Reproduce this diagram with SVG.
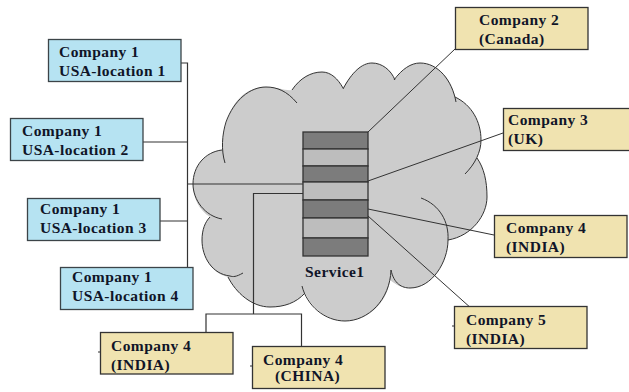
<svg xmlns="http://www.w3.org/2000/svg" width="629" height="392" viewBox="0 0 629 392">
<style>
.b{fill:#b6e3f2;stroke:#3c4448;stroke-width:1.3}
.y{fill:#f0e3b0;stroke:#333;stroke-width:1.3}
.t{font-family:"Liberation Serif","Times New Roman",serif;font-weight:700;font-size:15.5px;fill:#101528;letter-spacing:.45px}
.c{fill:none;stroke:#333;stroke-width:1}
.l{fill:none;stroke:#333;stroke-width:1.2}
.d{fill:#7c7c7c;stroke:#333;stroke-width:1.3}
.g{fill:#bdbdbd;stroke:#333;stroke-width:1.3}
</style>
<rect width="629" height="392" fill="#fff"/>
<g id="cloud">
<path fill="#cccccc" d="M222 150C224 110 240 87 266 87C277 87 286 91 292 90C300 78 311 72 322 72C331 72 338 79 343 88C352 72 362 63 372 63C382 63 391 70 395 80C402 69 411 63 420 63C438 63 452 80 455 97C472 105 481 122 481 140C481 148 479 153 477 158C484 168 487 181 487 197C487 215 472 236 448 240C448 262 432 288 410 288C402 288 396 285 390 280C387 303 368 321 345 321C327 321 312 308 305 293C296 303 284 307 270 307C252 307 236 293 228 277C212 274 202 257 202 240C202 230 205 222 210 217C199 210 193 198 193 184C193 166 205 152 222 150Z"/>
<path class="c" d="M225 163C221 150 222 135 226 122C234 100 250 87 266 87C277 87 287 91 297 103"/>
<path class="c" d="M292 90C300 78 311 72 322 72C331 72 338 79 343 88"/>
<path class="c" d="M343 89C352 72 362 63 372 63C382 63 391 70 395 80"/>
<path class="c" d="M394 80C402 69 411 63 420 63C438 63 452 80 456 102"/>
<path class="c" d="M455 97C472 105 481 122 481 140C481 152 475 164 465 174"/>
<path class="c" d="M477 158C484 168 487 181 487 197C487 215 472 236 448 240"/>
<path class="c" d="M421 198C440 205 449 222 448 240C448 262 432 288 410 288C402 288 394 284 391 270"/>
<path class="c" d="M391 270C390 300 368 321 345 321C325 321 307 306 302 286"/>
<path class="c" d="M305 293C296 303 284 307 270 307C252 307 236 293 228 277"/>
<path class="c" d="M243 273C236 277 233 277 230 276C212 274 202 257 202 240C202 230 205 222 210 217"/>
<path class="c" d="M222 219C205 216 193 200 193 184C193 166 205 152 222 150"/>
</g>
<g id="connectors">
<path class="l" d="M181 63H187.500V267M143 142H187.500M160 221H187.500M187.500 184H303"/>
<path class="l" d="M303 193.500H253.500V314M206 332V314H301.500V346"/>
<path class="c" d="M368 132L455 49M368 181L503 133M368 209L494 235M368 216L472 309"/>
<path class="c" d="M98 352H101M250 366H253M452 326H455"/>
</g>
<g id="service1">
<rect class="d" x="303" y="132" width="65" height="17"/>
<rect class="g" x="303" y="149" width="65" height="17"/>
<rect class="d" x="303" y="166" width="65" height="16"/>
<rect class="g" x="303" y="182" width="65" height="18"/>
<rect class="d" x="303" y="200" width="65" height="18"/>
<rect class="g" x="303" y="218" width="65" height="20"/>
<rect class="d" x="303" y="238" width="65" height="18"/>
<text class="t" x="305" y="277">Service1</text>
</g>
<g id="c1l1"><rect class="b" x="48.500" y="39.500" width="132.500" height="42"/><text class="t" x="59" y="57">Company 1</text><text class="t" x="59" y="76">USA-location 1</text></g>
<g id="c1l2"><rect class="b" x="10.500" y="118.500" width="132.500" height="42"/><text class="t" x="22" y="136">Company 1</text><text class="t" x="22" y="155">USA-location 2</text></g>
<g id="c1l3"><rect class="b" x="27.500" y="198.500" width="132.500" height="42"/><text class="t" x="40" y="214">Company 1</text><text class="t" x="40" y="233">USA-location 3</text></g>
<g id="c1l4"><rect class="b" x="60.500" y="267.500" width="132.500" height="42"/><text class="t" x="72" y="282">Company 1</text><text class="t" x="72" y="301">USA-location 4</text></g>
<g id="c2"><rect class="y" x="455.500" y="7.500" width="132.500" height="42"/><text class="t" x="479" y="25">Company 2</text><text class="t" x="479" y="44">(Canada)</text></g>
<g id="c3"><rect class="y" x="503.500" y="108.500" width="132.500" height="42"/><text class="t" x="508" y="125">Company 3</text><text class="t" x="508" y="144">(UK)</text></g>
<g id="c4a"><rect class="y" x="494.500" y="215.500" width="132.500" height="42"/><text class="t" x="506" y="233">Company 4</text><text class="t" x="506" y="252">(INDIA)</text></g>
<g id="c5"><rect class="y" x="454.500" y="306.500" width="132.500" height="42"/><text class="t" x="466" y="325">Company 5</text><text class="t" x="466" y="344">(INDIA)</text></g>
<g id="c4b"><rect class="y" x="100.500" y="332.500" width="132.500" height="41.500"/><text class="t" x="111" y="351">Company 4</text><text class="t" x="111" y="370">(INDIA)</text></g>
<g id="c4c"><rect class="y" x="252.500" y="346.500" width="132.500" height="42"/><text class="t" x="263" y="365">Company 4</text><text class="t" x="275" y="381">(CHINA)</text></g>
</svg>
